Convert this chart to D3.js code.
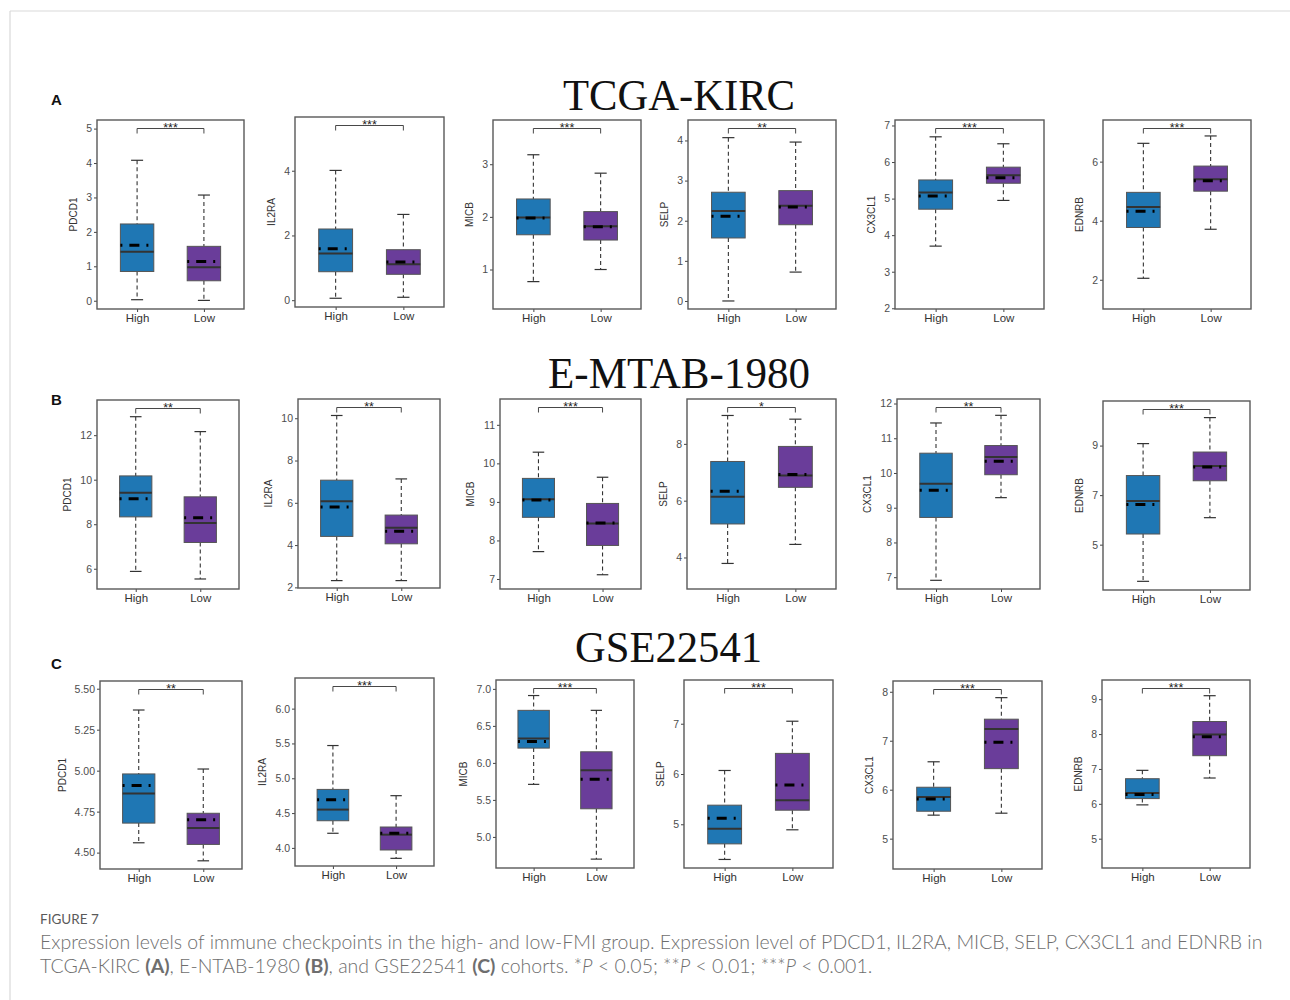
<!DOCTYPE html>
<html>
<head>
<meta charset="utf-8">
<script src="https://cdn.jsdelivr.net/npm/d3@7/dist/d3.min.js"></script>
<style>
  body { margin: 0; background: #fff; }
  svg { display: block; font-family: "Liberation Sans", Arial, sans-serif; }
</style>
</head>
<body>
<svg id="fig" width="1290" height="1000"></svg>
<script>
// ---- data ----
const cohorts = ['TCGA-KIRC', 'E-MTAB-1980', 'GSE22541'];
const rowLetters = ['A', 'B', 'C'];
const genes = ['PDCD1', 'IL2RA', 'MICB', 'SELP', 'CX3CL1', 'EDNRB'];
const groups = ['High', 'Low'];

// each entry: [whiskerLow, q1, median, q3, whiskerHigh, mean]
const kircHigh = [
  [0.03, 0.85, 1.42, 2.23, 4.08, 1.61],
  [0.06, 0.88, 1.44, 2.20, 4.01, 1.59],
  [0.77, 1.66, 1.99, 2.34, 3.18, 1.98],
  [0.00, 1.57, 2.24, 2.71, 4.07, 2.11],
  [3.70, 4.71, 5.17, 5.51, 6.69, 5.07],
  [2.05, 3.77, 4.46, 4.96, 6.62, 4.32]
];
const kircLow = [
  [0.01, 0.58, 0.97, 1.58, 3.07, 1.14],
  [0.09, 0.80, 1.11, 1.56, 2.65, 1.18],
  [1.00, 1.56, 1.82, 2.10, 2.83, 1.81],
  [0.72, 1.90, 2.37, 2.75, 3.96, 2.34],
  [4.95, 5.42, 5.64, 5.86, 6.50, 5.57],
  [3.71, 5.00, 5.40, 5.85, 6.87, 5.35]
];
const mtabHigh = [
  [5.88, 8.33, 9.41, 10.17, 12.83, 9.14],
  [2.32, 4.41, 6.07, 7.07, 10.13, 5.80],
  [7.71, 8.60, 9.07, 9.61, 10.29, 9.05],
  [3.79, 5.18, 6.14, 7.38, 9.00, 6.33],
  [6.91, 8.72, 9.69, 10.57, 11.44, 9.50],
  [3.52, 5.43, 6.76, 7.79, 9.08, 6.62]
];
const mtabLow = [
  [5.54, 7.18, 8.06, 9.23, 12.16, 8.29],
  [2.32, 4.06, 4.82, 5.42, 7.13, 4.66],
  [7.11, 7.87, 8.44, 8.96, 9.64, 8.45],
  [4.46, 6.47, 6.89, 7.91, 8.87, 6.92],
  [9.29, 9.95, 10.46, 10.79, 11.66, 10.34],
  [6.09, 7.58, 8.18, 8.74, 10.13, 8.14]
];
const gseHigh = [
  [4.56, 4.68, 4.86, 4.98, 5.37, 4.91],
  [4.21, 4.39, 4.55, 4.84, 5.47, 4.69],
  [5.71, 6.20, 6.33, 6.71, 6.91, 6.29],
  [4.30, 4.61, 4.91, 5.38, 6.07, 5.12],
  [5.48, 5.56, 5.85, 6.05, 6.57, 5.81],
  [5.97, 6.15, 6.31, 6.72, 6.96, 6.27]
];
const gseLow = [
  [4.45, 4.55, 4.65, 4.74, 5.01, 4.70],
  [3.85, 3.97, 4.19, 4.30, 4.75, 4.21],
  [4.70, 5.38, 5.90, 6.15, 6.71, 5.78],
  [4.89, 5.28, 5.48, 6.41, 7.05, 5.78],
  [5.52, 6.43, 7.24, 7.44, 7.88, 6.97],
  [6.74, 7.38, 7.99, 8.36, 9.10, 7.92]
];
const kircSig = ['***', '***', '***', '**', '***', '***'];
const mtabSig = ['**', '**', '***', '*', '**', '***'];
const gseSig = ['**', '***', '***', '***', '***', '***'];

// y-axis limits and tick labels
const kircDomain = [[-0.24, 5.25], [-0.21, 5.66], [0.25, 3.84], [-0.2, 4.51], [1.98, 7.15], [1.01, 7.41]];
const mtabDomain = [[5.09, 13.58], [1.97, 10.91], [6.74, 11.67], [2.89, 9.58], [6.66, 12.13], [3.17, 10.8]];
const gseDomain = [[4.40, 5.547], [3.74, 6.44], [4.58, 7.12], [4.13, 7.87], [4.38, 8.22], [4.16, 9.55]];
const kircTicks = [[0, 1, 2, 3, 4, 5], [0, 2, 4], [1, 2, 3], [0, 1, 2, 3, 4], [2, 3, 4, 5, 6, 7], [2, 4, 6]];
const mtabTicks = [[6, 8, 10, 12], [2, 4, 6, 8, 10], [7, 8, 9, 10, 11], [4, 6, 8], [7, 8, 9, 10, 11, 12], [5, 7, 9]];
const gseTicks = [[4.5, 4.75, 5, 5.25, 5.5], [4, 4.5, 5, 5.5, 6], [5, 5.5, 6, 6.5, 7], [5, 6, 7], [5, 6, 7, 8], [5, 6, 7, 8, 9]];
const gseTickFmt = ['.2f', '.1f', '.1f', 'd', 'd', 'd'];

// ---- layout (frames of each small panel) ----
const frameX = [
  [[97, 244], [295, 444], [493, 641], [688, 836], [895, 1044], [1103, 1251]],
  [[97, 239], [298, 440], [500, 641], [687, 836], [897, 1040], [1103, 1250]],
  [[100, 242], [295, 434], [496, 634], [684, 833], [893, 1042], [1102, 1250]]
];
const frameY = [
  [[120, 309], [117, 307], [120, 309], [120, 309], [120, 309], [120, 309]],
  [[400, 589], [399, 588], [399, 589], [399, 589], [399, 589], [401, 590]],
  [[681, 869], [678, 866], [680, 868], [680, 868], [681, 869], [680, 868]]
];
const titleX = [679, 679, 668.5];
const titleY = [110, 388, 662];
const titleLen = [232, 262, 187];
const letterY = [105, 405, 669];

const colors = { High: '#1f77b4', Low: '#6a3d9a' };

const svg = d3.select('#fig');

// page frame lines
svg.append('line').attr('x1', 10).attr('x2', 1290).attr('y1', 11).attr('y2', 11)
  .attr('stroke', '#d9d9d9').attr('stroke-width', 1.2);
svg.append('line').attr('x1', 10).attr('x2', 10).attr('y1', 11).attr('y2', 1000)
  .attr('stroke', '#d9d9d9').attr('stroke-width', 1.2);

const rows = [
  { high: kircHigh, low: kircLow, sig: kircSig, dom: kircDomain, ticks: kircTicks, fmt: genes.map(() => 'd') },
  { high: mtabHigh, low: mtabLow, sig: mtabSig, dom: mtabDomain, ticks: mtabTicks, fmt: genes.map(() => 'd') },
  { high: gseHigh, low: gseLow, sig: gseSig, dom: gseDomain, ticks: gseTicks, fmt: gseTickFmt }
];

function drawPanel(g, fx, fy, domain, ticks, fmt, stats, sig, gene) {
  const x = d3.scaleLinear().domain([0.4, 2.6]).range(fx);
  const y = d3.scaleLinear().domain(domain).range([fy[1], fy[0]]);
  const boxW = x(1.25) - x(0.75);
  const capW = boxW * 0.36;

  // y axis
  const ya = g.append('g').attr('transform', 'translate(' + fx[0] + ',0)')
    .call(d3.axisLeft(y).tickValues(ticks).tickSize(3).tickPadding(2).tickFormat(d3.format(fmt)));
  ya.select('.domain').remove();
  ya.selectAll('line').attr('stroke', '#444');
  ya.selectAll('text').attr('fill', '#4d4d4d').style('font-size', '10.5px');
  let maxW = 0;
  ya.selectAll('text').each(function() { maxW = Math.max(maxW, this.getComputedTextLength()); });

  // x axis
  const xa = g.append('g').attr('transform', 'translate(0,' + fy[1] + ')')
    .call(d3.axisBottom(x).tickValues([1, 2]).tickSize(3).tickPadding(2).tickFormat((d, i) => groups[i]));
  xa.select('.domain').remove();
  xa.selectAll('line').attr('stroke', '#444');
  xa.selectAll('text').attr('fill', '#333').style('font-size', '11.5px');

  // axis title
  const tx = fx[0] - 5 - maxW - 9;
  g.append('text')
    .attr('transform', 'translate(' + tx + ',' + ((fy[0] + fy[1]) / 2) + ') rotate(-90)')
    .attr('text-anchor', 'middle')
    .attr('fill', '#333')
    .style('font-size', '10px')
    .text(gene);

  // boxes
  stats.forEach((s, i) => {
    const cx = x(i + 1);
    const bx = cx - boxW / 2;
    const [lo, q1, med, q3, hi, mean] = s;
    const bg = g.append('g');
    bg.append('line').attr('x1', cx).attr('x2', cx).attr('y1', y(hi)).attr('y2', y(q3))
      .attr('stroke', '#333').attr('stroke-width', 1.1).attr('stroke-dasharray', '4,3');
    bg.append('line').attr('x1', cx).attr('x2', cx).attr('y1', y(q1)).attr('y2', y(lo))
      .attr('stroke', '#333').attr('stroke-width', 1.1).attr('stroke-dasharray', '4,3');
    [hi, lo].forEach(v => {
      bg.append('line').attr('x1', cx - capW / 2).attr('x2', cx + capW / 2)
        .attr('y1', y(v)).attr('y2', y(v)).attr('stroke', '#333').attr('stroke-width', 1.2);
    });
    bg.append('rect').attr('x', bx).attr('width', boxW)
      .attr('y', y(q3)).attr('height', y(q1) - y(q3))
      .attr('fill', colors[groups[i]]).attr('stroke', '#555').attr('stroke-width', 1);
    bg.append('line').attr('x1', bx).attr('x2', bx + boxW).attr('y1', y(med)).attr('y2', y(med))
      .attr('stroke', '#333').attr('stroke-width', 2);
    bg.append('line').attr('x1', bx).attr('x2', bx + boxW).attr('y1', y(mean)).attr('y2', y(mean))
      .attr('stroke', '#000').attr('stroke-width', 3).attr('stroke-dasharray', '2,7,10,7,2,100');
  });

  // frame
  g.append('rect').attr('x', fx[0]).attr('y', fy[0])
    .attr('width', fx[1] - fx[0]).attr('height', fy[1] - fy[0])
    .attr('fill', 'none').attr('stroke', '#595959').attr('stroke-width', 1.4);

  // significance bracket
  const by = y(domain[1]) + 8.5;
  g.append('path')
    .attr('d', 'M' + x(1) + ',' + (by + 5) + 'V' + by + 'H' + x(2) + 'V' + (by + 5))
    .attr('fill', 'none').attr('stroke', '#333').attr('stroke-width', 0.9);
  g.append('text').attr('x', (x(1) + x(2)) / 2).attr('y', by + 3)
    .attr('text-anchor', 'middle').attr('fill', '#222')
    .style('font-size', '12.5px').text(sig);
}

rows.forEach((r, ri) => {
  // cohort title
  svg.append('text')
    .attr('x', titleX[ri])
    .attr('y', titleY[ri])
    .attr('text-anchor', 'middle')
    .attr('textLength', titleLen[ri])
    .attr('lengthAdjust', 'spacingAndGlyphs')
    .style('font-family', '"Liberation Serif", "Times New Roman", serif')
    .style('font-size', '44px')
    .attr('fill', '#111')
    .text(cohorts[ri]);
  svg.append('text')
    .attr('x', 51).attr('y', letterY[ri])
    .style('font-size', '15px').style('font-weight', 'bold')
    .attr('fill', '#111')
    .text(rowLetters[ri]);

  genes.forEach((gene, gi) => {
    const g = svg.append('g').attr('class', 'panel');
    drawPanel(g, frameX[ri][gi], frameY[ri][gi], r.dom[gi], r.ticks[gi], r.fmt[gi],
      [r.high[gi], r.low[gi]], r.sig[gi], gene);
  });
});

// ---- caption ----
const capFont = '"Lato", "Open Sans", sans-serif';
svg.append('text').attr('x', 40).attr('y', 924)
  .style('font-family', capFont).style('font-size', '13.5px')
  .attr('fill', '#5a5a5a').text('FIGURE 7');

const line1 = svg.append('text').attr('x', 40).attr('y', 949)
  .style('font-family', capFont).style('font-size', '16px').style('font-weight', 300)
  .attr('fill', '#6e6e6e')
  .text('Expression levels of immune checkpoints in the high- and low-FMI group. Expression level of PDCD1, IL2RA, MICB, SELP, CX3CL1 and EDNRB in');
const w1 = line1.node().getComputedTextLength();
const capSize = 16 * 1223 / w1;
line1.style('font-size', capSize + 'px');

const line2 = svg.append('text').attr('x', 40).attr('y', 973)
  .style('font-family', capFont).style('font-size', capSize + 'px').style('font-weight', 300)
  .attr('fill', '#6e6e6e');
const parts = [
  ['TCGA-KIRC ', ''], ['(A)', 'b'], [', E-NTAB-1980 ', ''], ['(B)', 'b'], [', and GSE22541 ', ''],
  ['(C)', 'b'], [' cohorts. *', ''], ['P', 'i'], [' < 0.05; **', ''], ['P', 'i'],
  [' < 0.01; ***', ''], ['P', 'i'], [' < 0.001.', '']
];
parts.forEach(p => {
  const t = line2.append('tspan').text(p[0]);
  if (p[1] === 'b') t.style('font-weight', 'bold');
  if (p[1] === 'i') t.style('font-style', 'italic');
});
</script>
</body>
</html>
